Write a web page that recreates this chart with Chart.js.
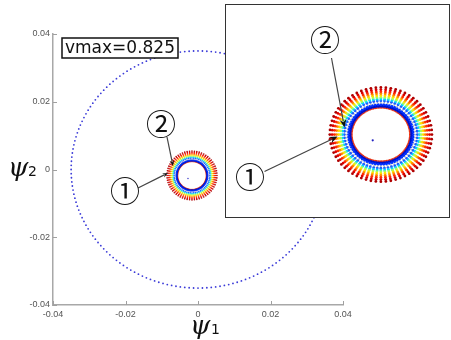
<!DOCTYPE html>
<html>
<head>
<meta charset="utf-8">
<script src="https://cdn.jsdelivr.net/npm/chart.js@4"></script>
<style>
  body { margin: 0; background: #fff; }
  #wrap { position: relative; width: 451px; height: 340px; }
  #main { position: absolute; left: 0; top: 0; }
  #inset {
    position: absolute; left: 225px; top: 4px; width: 225px; height: 214px;
    border: 1.5px solid #333; box-sizing: border-box; background: #fff;
  }
  #insetChart { display: block; }
</style>
</head>
<body>
<div id="wrap">
  <canvas id="main" width="451" height="340"></canvas>
  <div id="inset"><canvas id="insetChart" width="222" height="211"></canvas></div>
</div>
<script>
// values
var xTicks = [-0.04, -0.02, 0, 0.02, 0.04];
var yTicks = [-0.04, -0.02, 0, 0.02, 0.04];
var vmaxLabel = "vmax=0.825";

var bigCircleCenter = [0, 0];
var bigCircleRadius = 0.035;
var bigCircleCount = 180;

var ringCenter = [-0.00166, -0.00177];
var ringRadiusX = 0.0069;
var ringRadiusY = 0.0072;
var ringLevels = [1.0, 0.955, 0.91, 0.87, 0.83, 0.79, 0.755, 0.715, 0.675, 0.635, 0.605, 0.57];
var ringColors = ["#b00000", "#e00000", "#ff3000", "#ff8a00", "#ffe000", "#a0ff60",
                  "#00d4ff", "#1e5cff", "#b8b8b8", "#0030ff", "#0010c8", "#e83010"];
var ringCounts = [64, 64, 64, 64, 64, 64, 64, 64, 64, 72, 96, 110];
var ringSizes = [1, 1, 1, 1, 1, 1, 1, 1, 0.6, 1, 1.1, 0.75];
var centerPoint = [-0.00276, -0.00266];

function circlePoints(cx, cy, rx, ry, n) {
  var pts = [];
  for (var i = 0; i < n; i++) {
    var a = (i / n) * Math.PI * 2;
    pts.push({ x: cx + rx * Math.cos(a), y: cy + ry * Math.sin(a) });
  }
  return pts;
}

function ringDatasets(size) {
  var ds = [];
  for (var i = 0; i < ringLevels.length; i++) {
    ds.push({
      data: circlePoints(ringCenter[0], ringCenter[1],
        ringRadiusX * ringLevels[i], ringRadiusY * ringLevels[i], ringCounts[i]),
      backgroundColor: ringColors[i],
      borderWidth: 0,
      pointRadius: size * ringSizes[i],
    });
  }
  ds.push({
    data: [{ x: centerPoint[0], y: centerPoint[1] }],
    backgroundColor: "#2020c0",
    borderWidth: 0,
    pointRadius: size * 0.8,
  });
  return ds;
}

function arrow(ctx, x1, y1, x2, y2, head) {
  var a = Math.atan2(y2 - y1, x2 - x1);
  ctx.strokeStyle = "#444";
  ctx.lineWidth = 1.2;
  ctx.beginPath();
  ctx.moveTo(x1, y1);
  ctx.lineTo(x2 - Math.cos(a) * head * 0.7, y2 - Math.sin(a) * head * 0.7);
  ctx.stroke();
  ctx.fillStyle = "#111";
  ctx.beginPath();
  ctx.moveTo(x2, y2);
  ctx.lineTo(x2 - head * Math.cos(a - 0.4), y2 - head * Math.sin(a - 0.4));
  ctx.lineTo(x2 - head * 0.6 * Math.cos(a), y2 - head * 0.6 * Math.sin(a));
  ctx.lineTo(x2 - head * Math.cos(a + 0.4), y2 - head * Math.sin(a + 0.4));
  ctx.closePath();
  ctx.fill();
}

function circled(ctx, txt, x, y) {
  ctx.fillStyle = "#111";
  ctx.font = "30px 'Noto Sans CJK JP'";
  ctx.textAlign = "center";
  ctx.textBaseline = "middle";
  ctx.fillText(txt, x, y);
}

var mainDecor = {
  id: "mainDecor",
  afterDraw: function (chart) {
    var ctx = chart.ctx;
    var xs = chart.scales.x, ys = chart.scales.y;
    ctx.save();
    // inward tick marks
    ctx.strokeStyle = "#a0a0a0";
    ctx.lineWidth = 1;
    xTicks.forEach(function (v) {
      var px = Math.round(xs.getPixelForValue(v)) + 0.5;
      ctx.beginPath();
      ctx.moveTo(px, ys.bottom);
      ctx.lineTo(px, ys.bottom - 4);
      ctx.stroke();
    });
    yTicks.forEach(function (v) {
      var py = Math.round(ys.getPixelForValue(v)) + 0.5;
      ctx.beginPath();
      ctx.moveTo(xs.left, py);
      ctx.lineTo(xs.left + 4, py);
      ctx.stroke();
    });
    // axis titles
    ctx.fillStyle = "#111";
    ctx.textAlign = "left";
    ctx.textBaseline = "alphabetic";
    ctx.font = "italic 26px 'DejaVu Serif'";
    ctx.fillText("ψ", 8, 176);
    ctx.fillText("ψ", 190, 334);
    ctx.font = "14px 'DejaVu Sans'";
    ctx.fillText("2", 28, 176);
    ctx.fillText("1", 211, 334);
    // vmax box
    ctx.fillStyle = "#fff";
    ctx.fillRect(62, 38, 116, 20);
    ctx.strokeStyle = "#111";
    ctx.lineWidth = 1.5;
    ctx.strokeRect(62, 38, 116, 20);
    ctx.fillStyle = "#111";
    ctx.font = "17px 'DejaVu Sans'";
    ctx.textAlign = "center";
    ctx.textBaseline = "middle";
    ctx.fillText(vmaxLabel, 120, 48.5);
    // annotations
    arrow(ctx, 167, 137, 173, 166, 6);
    arrow(ctx, 138, 188, 168, 173, 6);
    circled(ctx, "②", 161, 124);
    circled(ctx, "①", 125, 191);
    ctx.restore();
  },
};

var insetDecor = {
  id: "insetDecor",
  afterDraw: function (chart) {
    var ctx = chart.ctx;
    ctx.save();
    arrow(ctx, 105.5, 53, 118.5, 122.5, 9);
    arrow(ctx, 38.5, 166.5, 111.5, 131.5, 9);
    circled(ctx, "②", 99, 34.5);
    circled(ctx, "①", 24, 171.5);
    ctx.restore();
  },
};

var tickFont = { family: "'Liberation Sans'", size: 9 };

var mainDatasets = [{
  data: circlePoints(bigCircleCenter[0], bigCircleCenter[1], bigCircleRadius, bigCircleRadius, bigCircleCount),
  backgroundColor: "#3a3ad8",
  borderWidth: 0,
  pointRadius: 0.9,
}].concat(ringDatasets(0.8));

new Chart(document.getElementById("main"), {
  type: "scatter",
  data: { datasets: mainDatasets },
  options: {
    responsive: false,
    animation: false,
    events: [],
    layout: { padding: { top: 34, right: 108, left: 0, bottom: 0 } },
    plugins: { legend: { display: false }, tooltip: { enabled: false } },
    scales: {
      x: {
        type: "linear",
        min: -0.04,
        max: 0.04,
        afterFit: function (s) { s.height = 35; },
        afterBuildTicks: function (s) { s.ticks = xTicks.map(function (v) { return { value: v }; }); },
        grid: { display: false, drawTicks: false },
        border: { display: true, color: "#a8a8a8", width: 1.5 },
        ticks: {
          autoSkip: false, maxRotation: 0, padding: 4, color: "#555", font: tickFont,
          callback: function (v) { return String(v); },
        },
      },
      y: {
        type: "linear",
        min: -0.04,
        max: 0.04,
        afterFit: function (s) { s.width = 53; },
        afterBuildTicks: function (s) { s.ticks = yTicks.map(function (v) { return { value: v }; }); },
        grid: { display: false, drawTicks: false },
        border: { display: true, color: "#a8a8a8", width: 1.5 },
        ticks: {
          autoSkip: false, padding: 3, color: "#555", font: tickFont,
          callback: function (v) { return String(v); },
        },
      },
    },
  },
  plugins: [mainDecor],
});

new Chart(document.getElementById("insetChart"), {
  type: "scatter",
  data: { datasets: ringDatasets(1.4) },
  options: {
    responsive: false,
    animation: false,
    events: [],
    layout: { padding: 0 },
    plugins: { legend: { display: false }, tooltip: { enabled: false } },
    scales: {
      x: { display: false, min: -0.02204, max: 0.00687 },
      y: { display: false, min: -0.01361, max: 0.01742 },
    },
  },
  plugins: [insetDecor],
});
</script>
</body>
</html>
